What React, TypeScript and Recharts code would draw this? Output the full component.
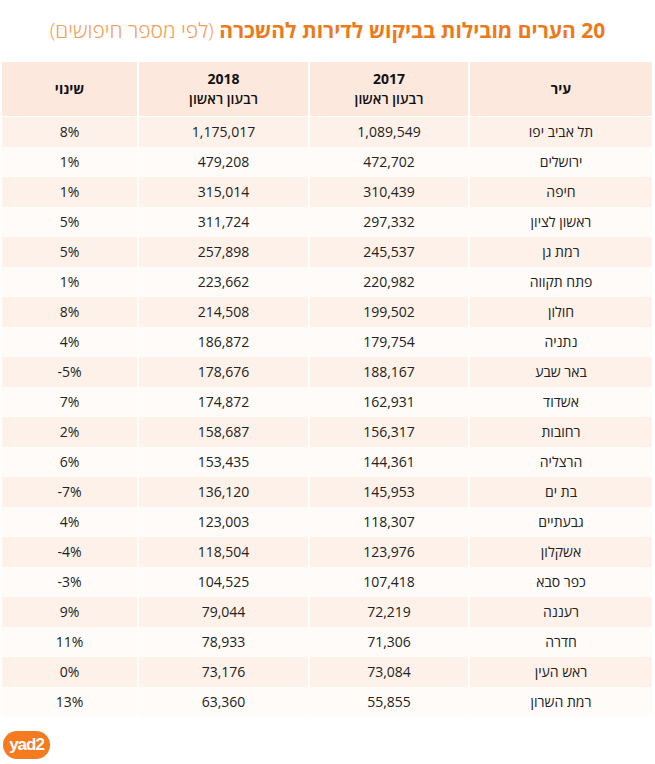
import { ComposedChart, XAxis, YAxis } from "recharts";

const cities = [
  "תל אביב יפו",
  "ירושלים",
  "חיפה",
  "ראשון לציון",
  "רמת גן",
  "פתח תקווה",
  "חולון",
  "נתניה",
  "באר שבע",
  "אשדוד",
  "רחובות",
  "הרצליה",
  "בת ים",
  "גבעתיים",
  "אשקלון",
  "כפר סבא",
  "רעננה",
  "חדרה",
  "ראש העין",
  "רמת השרון",
];

const q1_2017 = [
  1089549, 472702, 310439, 297332, 245537, 220982, 199502, 179754, 188167, 162931,
  156317, 144361, 145953, 118307, 123976, 107418, 72219, 71306, 73084, 55855,
];

const q1_2018 = [
  1175017, 479208, 315014, 311724, 257898, 223662, 214508, 186872, 178676, 174872,
  158687, 153435, 136120, 123003, 118504, 104525, 79044, 78933, 73176, 63360,
];

const change = [8, 1, 1, 5, 5, 1, 8, 4, -5, 7, 2, 6, -7, 4, -4, -3, 9, 11, 0, 13];

const headers = ["שינוי", "2018", "2017", "עיר"];
const subHeader = "רבעון ראשון";

const rows = cities.map((city, i) => ({
  city,
  y2017: q1_2017[i],
  y2018: q1_2018[i],
  change: change[i],
}));

const FONT = "'Open Sans', 'Liberation Sans', sans-serif";
// column edges [x0, x1], left to right
const cols = [
  [2, 137],
  [139, 308],
  [310, 468],
  [470, 652],
];
const fmt = (v: number) => v.toLocaleString("en-US");

function RowTick(props: any) {
  const { y, index } = props;
  const r = rows[index];
  if (!r) return null;
  const h = 30;
  const fill = index % 2 === 0 ? "#fdf1e9" : "#fffbf8";
  const texts = [`${r.change}%`, fmt(r.y2018), fmt(r.y2017), r.city];
  return (
    <g>
      {cols.map(([x0, x1], c) => (
        <rect key={c} x={x0} y={y - h / 2} width={x1 - x0} height={h} fill={fill} />
      ))}
      {cols.map(([x0, x1], c) => (
        <text
          key={"t" + c}
          x={(x0 + x1) / 2}
          y={y}
          dy={5}
          textAnchor="middle"
          direction={c === 3 ? "rtl" : "ltr"}
          fontFamily={FONT}
          fontSize={14}
          fill="#222"
        >
          {texts[c]}
        </text>
      ))}
    </g>
  );
}

export default function App() {
  return (
    <div style={{ position: "absolute", left: 0, top: 0, width: 655, height: 764, background: "#fff" }}>
      <div style={{ position: "absolute", left: 0, top: 0 }}>
        <ComposedChart
          layout="vertical"
          width={655}
          height={764}
          data={rows}
          margin={{ top: 117, right: 3, bottom: 47, left: 2 }}
        >
          <XAxis type="number" hide domain={[0, 1]} />
          <YAxis
            type="category"
            dataKey="city"
            scale="band"
            width={1}
            interval={0}
            axisLine={false}
            tickLine={false}
            tick={<RowTick />}
          />
        </ComposedChart>
      </div>
      <div
        dir="rtl"
        style={{
          position: "absolute",
          left: 0,
          top: 16,
          width: 655,
          textAlign: "center",
          fontFamily: FONT,
          fontSize: 21,
          color: "#ec7a1c",
          whiteSpace: "nowrap",
        }}
      >
        <span style={{ fontWeight: 700 }}>20 הערים מובילות בביקוש לדירות להשכרה</span>{" "}
        <span style={{ fontWeight: 300, color: "#f2a15c" }}>(לפי מספר חיפושים)</span>
      </div>
      {cols.map(([x0, x1], c) => (
        <div
          key={c}
          dir="rtl"
          style={{
            position: "absolute",
            left: x0,
            top: 62,
            width: x1 - x0,
            height: 54,
            background: "#fce8dc",
            display: "flex",
            flexDirection: "column",
            justifyContent: "center",
            alignItems: "center",
            fontFamily: FONT,
            fontSize: 14,
            color: "#111",
            lineHeight: "20px",
          }}
        >
          <div style={{ fontWeight: 700 }}>{headers[c]}</div>
          {(c === 1 || c === 2) && <div style={{ fontWeight: 600 }}>{subHeader}</div>}
        </div>
      ))}
      <div
        style={{
          position: "absolute",
          left: 3,
          top: 731,
          width: 47,
          height: 28,
          borderRadius: 14,
          background: "#f47b20",
          color: "#fff",
          fontFamily: "'Liberation Sans', sans-serif",
          fontWeight: 700,
          fontSize: 17,
          lineHeight: "28px",
          textAlign: "center",
          letterSpacing: -1,
        }}
      >
        yad2
      </div>
    </div>
  );
}
